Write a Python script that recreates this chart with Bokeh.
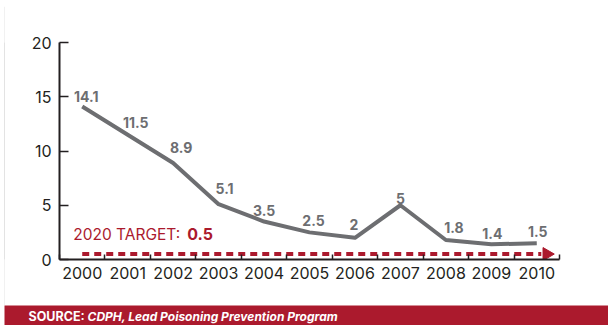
import math
from bokeh.plotting import figure
from bokeh.layouts import column, row
from bokeh.models import (Range1d, FixedTicker, Label, LabelSet, ColumnDataSource, Spacer)
from bokeh.core.properties import value
from bokeh.embed import file_html
from bokeh.resources import INLINE

# Blood lead testing series, by year
years = [2000, 2001, 2002, 2003, 2004, 2005, 2006, 2007, 2008, 2009, 2010]
rates = [14.1, 11.5, 8.9, 5.1, 3.5, 2.5, 2.0, 5.0, 1.8, 1.4, 1.5]
rate_labels = ["14.1", "11.5", "8.9", "5.1", "3.5", "2.5", "2", "5", "1.8", "1.4", "1.5"]
y_ticks = [0, 5, 10, 15, 20]
target_year = 2020
target_value = 0.5
source_org = "CDPH, Lead Poisoning Prevention Program"

# pixel nudges for the value labels so they clear the line
label_dx = [4, 8, 8, 6, 0, 4, -1, 0, 8, 1, 1]
label_dy = [10, 12, 15, 16, 11, 12, 13, 7, 12, 11, 12]

RED = "#ab1a2d"
GREY = "#6d6e71"
INK = "#231f20"
RULE = "#c8c8c8"
FONT = "Inter"


def strip(width, height, color):
    """A bare figure whose whole canvas is one flat colour."""
    f = figure(width=width, height=height, output_backend="svg", toolbar_location=None,
               x_range=Range1d(0, 1), y_range=Range1d(0, 1),
               min_border=0, background_fill_color=color, border_fill_color=color,
               outline_line_color=None)
    f.axis.visible = False
    f.grid.visible = False
    return f


p = figure(width=603, height=299, output_backend="svg", toolbar_location=None,
           x_range=Range1d(years[0] - 0.5, years[-1] + 0.5),
           y_range=Range1d(y_ticks[0], y_ticks[-1]),
           min_border_left=54, min_border_right=49,
           min_border_top=36, min_border_bottom=46,
           background_fill_color="white", border_fill_color="white",
           outline_line_color=None)
p.grid.visible = False

# x axis: year labels at centres, small inward ticks between years
xa = p.xaxis[0]
xa.ticker = FixedTicker(ticks=years,
                        minor_ticks=[years[0] - 0.5] + [y + 0.5 for y in years])
xa.major_label_overrides = {y: str(y) for y in years}
xa.major_tick_in = 0
xa.major_tick_out = 0
xa.minor_tick_in = 5
xa.minor_tick_out = 0
xa.minor_tick_line_color = INK
xa.minor_tick_line_width = 1.5
xa.axis_line_color = INK
xa.axis_line_width = 2
xa.major_label_text_font = FONT
xa.major_label_text_font_size = "16px"
xa.major_label_text_color = INK
xa.major_label_standoff = 7

ya = p.yaxis[0]
ya.ticker = FixedTicker(ticks=y_ticks)
ya.minor_tick_line_color = None
ya.major_tick_in = 9
ya.major_tick_out = 0
ya.major_tick_line_color = INK
ya.major_tick_line_width = 1.5
ya.axis_line_color = INK
ya.axis_line_width = 2
ya.major_label_text_font = FONT
ya.major_label_text_font_size = "16px"
ya.major_label_text_color = INK
ya.major_label_standoff = 8

# target line: dashed run ending in a filled arrow head
p.line([years[0], years[-1] + 0.1], [target_value, target_value],
       line_color=RED, line_width=4, line_dash="7 5")
p.scatter([years[-1] + 0.22], [target_value], marker="triangle", size=13,
          angle=-math.pi / 2, fill_color=RED, line_color=RED)

p.add_layout(Label(x=years[0], y=target_value, x_offset=-9, y_offset=20,
                   text=f"{target_year} TARGET:", text_color=RED,
                   text_font=FONT, text_font_size="15.5px",
                   text_baseline="middle", text_align="left"))
p.add_layout(Label(x=years[0], y=target_value, x_offset=105, y_offset=20,
                   text=f"{target_value}", text_color=RED, text_font_style="bold",
                   text_font=FONT, text_font_size="16px",
                   text_baseline="middle", text_align="left"))

# the series
p.line(years, rates, line_color=GREY, line_width=4, line_join="round")

src = ColumnDataSource(dict(x=years, y=rates, t=rate_labels, dx=label_dx, dy=label_dy))
p.add_layout(LabelSet(x="x", y="y", text="t", x_offset="dx", y_offset="dy", source=src,
                      text_color=GREY, text_font=value(FONT), text_font_size="14px",
                      text_font_style="bold", text_align="center",
                      text_baseline="middle"))

p.add_layout(Label(x=years[-1] + 0.5, y=0, x_offset=9, text="YR", text_color=INK,
                   text_font=FONT, text_font_size="16px",
                   text_baseline="middle", text_align="left"))

# page furniture: red bands top and bottom, thin rule down the left edge
top_band = strip(604, 6, RED)
left_rule = strip(1, 299, RULE)
bottom_band = strip(604, 20, RED)
bottom_band.add_layout(Label(x=24, y=9.5, x_units="screen", y_units="screen",
                             text="SOURCE:", text_color="white", text_font=FONT,
                             text_font_size="12.5px", text_font_style="bold",
                             text_baseline="middle", text_align="left"))
bottom_band.add_layout(Label(x=83, y=9.5, x_units="screen", y_units="screen",
                             text=source_org, text_color="white", text_font=FONT,
                             text_font_size="12px", text_font_style="bold italic",
                             text_baseline="middle", text_align="left"))

page = row(Spacer(width=4, height=325),
           column(top_band, row(left_rule, p), bottom_band))

open("out.html", "w").write(file_html(page, INLINE))
